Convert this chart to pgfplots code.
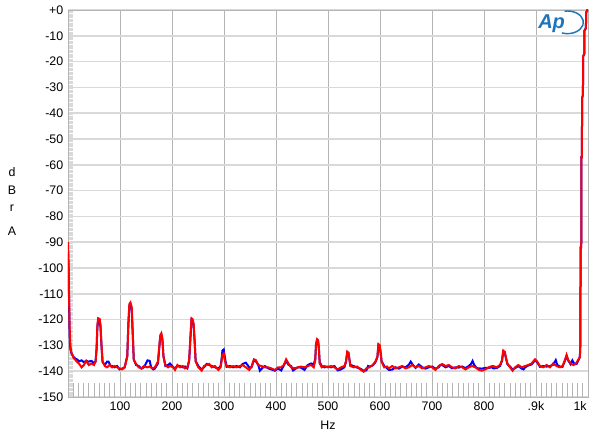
\documentclass[border=0pt]{standalone}
\usepackage{pgfplots}
\pgfplotsset{compat=1.18}
\usepackage{fontspec}
\setmainfont{Liberation Sans}
\definecolor{apblue}{HTML}{1C75BC}
\definecolor{hgrid}{HTML}{D9D9D9}
\definecolor{vgrid}{HTML}{B4B4B4}
\begin{document}
\begin{tikzpicture}
\path[use as bounding box] (-51pt,-33.75pt) rectangle (399pt,297.75pt);
\begin{axis}[
  at={(0,0)}, anchor=south west,
  scale only axis, width=390pt, height=290.25pt,
  xmin=0, xmax=1000, ymin=-150, ymax=0,
  xtick={100,200,...,1000},
  xticklabels={100,200,300,400,500,600,700,800,.9k,\makebox[0pt][r]{1k\hspace{1pt}}},
  ytick={-150,-140,...,0},
  yticklabels={-150,-140,-130,-120,-110,-100,-90,-80,-70,-60,-50,-40,-30,-20,-10,+0},
  tick label style={font=\fontsize{9.3}{10.5}\selectfont},
  /pgf/number format/assume math mode=true,
  major tick length=0pt,
  minor y tick num=19, minor x tick num=0,
  minor tick length=3.75pt,
  tick align=inside, tick pos=left,
  minor tick style={hgrid, line width=0.4pt},
  grid=major,
  major x grid style={vgrid, line width=0.6pt},
  major y grid style={hgrid, line width=1.2pt},
  axis line style={vgrid, line width=0.6pt},
]
\addplot[blue, line width=1.5pt] coordinates {
(0,-94) (1,-100) (2,-112) (3,-125) (4,-130) (5,-132) (7,-133.2) (9,-134) (11,-134.5) (14.5,-135.2) (18,-135.5) (21,-136.2) (26,-135.8) (30.5,-136.5) (35,-136) (40,-136.3) (45,-136) (50,-136.8) (53,-136.3) (55,-131.5) (56.5,-123) (58,-120.5) (61,-120.8) (62.5,-123) (64.5,-130.5) (66.5,-136.5) (71,-137.6) (75,-136.3) (78,-136.3) (82,-138) (85,-138) (90,-138.5) (94.5,-138) (99,-139.3) (104,-139) (109,-138.5) (114,-134) (116,-122.5) (118,-114.5) (120,-114) (122.5,-116) (124.5,-125.8) (126.5,-135.5) (131,-137.6) (136,-138) (141,-139) (146,-138.5) (150,-137) (153,-135.8) (157,-136) (160,-138.5) (164,-139.3) (167,-139) (173,-137) (175.5,-131) (177.5,-126.5) (179.5,-125.8) (181.5,-127.8) (183.5,-134) (187.3,-138) (192.4,-137.6) (196,-137) (202.6,-138.5) (205.8,-138.9) (210.3,-138) (215.4,-138) (220.5,-138.5) (225,-138.2) (229.5,-138.9) (233,-136) (235.5,-127) (237.5,-120) (239.5,-120.3) (241.5,-122) (243.5,-128.5) (245.5,-136) (250.6,-138) (257,-139.3) (261.5,-138.5) (266.6,-137.2) (271.7,-137.6) (276.2,-138) (282.6,-138.5) (289,-139) (293.5,-138) (295.5,-135) (297,-132) (299.5,-131.6) (301.5,-134.5) (305,-138.3) (311.4,-138) (317.8,-138.5) (324,-138) (330.6,-138.5) (335.7,-137.2) (342,-136.7) (348.5,-138.5) (353,-138.5) (357.5,-135.8) (361.3,-136.2) (365.8,-137.5) (369,-139.8) (375,-138.5) (378.6,-138) (385,-138.9) (391,-139.3) (397.8,-139.8) (404,-139) (410,-139.7) (415,-137.8) (419.5,-136) (424,-137.5) (429,-138) (433,-139.7) (438,-139) (442,-138.5) (448,-138.6) (454.7,-139.5) (461,-137.6) (467.5,-137) (472.6,-137.4) (475.5,-135.2) (477,-129.6) (479,-128.2) (481,-128.6) (482.5,-131.5) (484,-136.5) (488,-138) (493,-138.5) (499.5,-138.2) (506,-138.5) (512.3,-138) (518.7,-139.7) (525,-139.3) (531.5,-138.5) (534.5,-136.5) (537,-132.8) (539.5,-133.2) (541,-135.3) (543,-137.6) (549.4,-138) (556,-138.6) (562,-139) (568.6,-139.8) (573.7,-139.7) (577,-138) (579.5,-138.2) (586,-137.8) (591,-136.6) (595,-134.6) (597,-130) (599.5,-130.5) (601.5,-133.5) (603,-136) (608,-138) (613.4,-138.8) (617,-139.5) (623.5,-139.4) (630,-138.5) (636.3,-139) (642.7,-138.2) (649,-138.5) (655.5,-137.5) (659,-136.3) (662,-137.2) (668.3,-138.7) (674.7,-137.4) (681,-138.5) (687.5,-139) (694,-138.5) (700.3,-138.2) (706.7,-139) (713,-138.5) (716,-137.6) (719.5,-137.6) (726,-138.5) (732.3,-138) (738.7,-138.9) (745,-138.5) (751.5,-138.6) (758,-138.2) (764.3,-138.8) (770.7,-138) (775,-137.2) (778,-136) (781,-137.5) (786,-138.8) (790,-138.9) (796.3,-139) (802.7,-138.7) (809,-138.7) (815.5,-138.5) (818,-138.9) (824.4,-138.8) (830.8,-138) (834.6,-136) (837,-132.5) (840,-133) (842,-134.8) (845,-137.3) (850,-138.2) (855,-139.3) (860,-138.8) (866,-138) (872.4,-139) (876,-139.3) (879,-138.5) (885,-137.8) (891.6,-137.4) (898,-135.8) (902.5,-136.6) (907.6,-138.3) (914,-138) (920.4,-138.2) (926.8,-138) (933,-137.5) (938,-135.7) (941,-137.6) (946,-138.2) (951,-138.3) (955.6,-136) (958.8,-134) (962,-135.9) (966.5,-137.3) (970,-135.8) (974,-137.3) (978,-137.2) (981,-136) (984.4,-134.3) (985.2,-130) (985.5,-112) (985.8,-92) (987,-92) (987.3,-57) (988.3,-57) (988.6,-34) (990.3,-33) (990.6,-18) (992.8,-17) (993.1,-8) (996,-7) (996.5,-1) (999,0) (1000,0.5)
};
\addplot[red, line width=1.5pt] coordinates {
(0,-90) (1,-97) (2,-110) (3,-122) (4,-128) (5,-131) (7,-133) (9,-133.8) (11,-135) (14.5,-135.7) (18,-136.5) (21,-137) (26,-138.5) (30.5,-137.6) (35,-136) (40,-137.6) (45,-137) (50,-137.6) (53,-136.3) (55,-131) (56.5,-122) (58,-119.5) (61,-119.8) (62.5,-122) (64.5,-130) (66.5,-136.3) (71,-138) (75,-138.5) (80,-137.6) (85,-138.5) (90,-138) (94.5,-138.5) (99,-138.9) (104,-139.3) (109,-138.5) (114,-134.4) (116,-122) (118,-114) (120,-113.4) (122.5,-115) (124.5,-125) (126.5,-135.7) (131,-137.2) (136,-138.5) (141,-138.9) (146,-138) (152,-138.5) (157,-138.2) (162,-138.9) (167,-138.5) (173,-136.3) (175.5,-130.5) (177.5,-126) (179.5,-125.3) (181.5,-127.3) (183.5,-134.4) (187.3,-137.6) (192.4,-138.5) (196,-138) (202.6,-138.5) (205.8,-139.5) (210.3,-137.6) (215.4,-138.5) (220.5,-138) (225,-138.9) (229.5,-138.5) (233,-135.7) (235.5,-126.6) (237.5,-119.5) (239.5,-119.8) (241.5,-121.5) (243.5,-128) (245.5,-136.3) (250.6,-138.5) (257,-139.8) (261.5,-138) (266.6,-137.6) (271.7,-137.2) (276.2,-138.5) (282.6,-138) (289,-139.5) (293.5,-138.5) (295.5,-136) (297,-133.5) (299.5,-133.1) (301.5,-135.7) (305,-138) (311.4,-138.5) (317.8,-138) (324,-138.5) (330.6,-138) (335.7,-137.6) (342,-138.5) (348.5,-139.5) (353,-138.2) (357.5,-135.4) (361.3,-135.7) (365.8,-137.6) (372,-138) (378.6,-138.5) (385,-138.5) (391,-138.9) (397.8,-139.5) (404,-138.5) (410,-138.5) (415,-137.6) (419.5,-135.4) (424,-137) (429,-138.5) (435.5,-138.9) (442,-138.5) (448,-138.2) (454.7,-138.5) (461,-138) (467.5,-137.6) (472.6,-138.5) (475.5,-135.7) (477,-129.2) (479,-127.6) (481,-128) (482.5,-131) (484,-137) (488,-138.5) (493,-138) (499.5,-138.5) (506,-138) (512.3,-138.5) (518.7,-139.3) (525,-138.5) (531.5,-138) (534.5,-136.3) (537,-132.4) (539.5,-132.8) (541,-135) (543,-138) (549.4,-138.5) (556,-138.2) (562,-139.3) (568.6,-140.2) (573.7,-138.9) (579.5,-138.5) (586,-137.6) (591,-136.3) (595,-134.4) (597,-129.5) (599.5,-130) (601.5,-133) (603,-136.3) (608,-138.5) (613.4,-138.2) (617,-138.9) (623.5,-138) (630,-138.9) (636.3,-138.5) (642.7,-138) (649,-138.9) (655.5,-138.5) (662,-137.6) (668.3,-138.5) (674.7,-138) (681,-138.9) (687.5,-138.5) (694,-138) (700.3,-138.5) (706.7,-139.5) (713,-138) (719.5,-137.2) (726,-138) (732.3,-137.6) (738.7,-138.5) (745,-138.9) (751.5,-138) (758,-138.5) (764.3,-139.3) (770.7,-138.5) (777,-138) (783.5,-138.5) (790,-139.5) (796.3,-139.8) (802.7,-139.3) (809,-138.5) (815.5,-138) (818,-138) (824.4,-138.5) (830.8,-137.6) (834.6,-135.7) (837,-132) (840,-132.5) (842,-134.5) (845,-137) (850,-138.5) (855,-139.8) (860,-138.5) (866,-137.6) (872.4,-138.5) (879,-138) (885,-137.6) (891.6,-137) (898,-135.4) (902.5,-136.3) (907.6,-138) (914,-138.5) (920.4,-137.6) (926.8,-138.5) (933,-137) (939.6,-138) (946,-138.5) (951,-138) (955.6,-135.7) (958.8,-133.7) (962,-135.7) (966.5,-137) (971.6,-137.6) (976.7,-137) (981,-135.7) (984.4,-134.6) (985.2,-130) (985.5,-112) (985.8,-92) (987,-92) (987.3,-57) (988.3,-57) (988.6,-34) (990.3,-33) (990.6,-18) (992.8,-17) (993.1,-8) (996,-7) (996.5,-1) (999,0) (1000,0.5)
};
% Ap logo
\node[text=apblue, font=\bfseries\itshape\fontsize{15}{15}\selectfont, inner sep=0pt]
  at (rel axis cs:0.930,0.965) {Ap};
\draw[apblue, line width=1.1pt] (rel axis cs:0.955,0.997)
  arc[start angle=100, end angle=-110, x radius=12pt, y radius=8.5pt];
\end{axis}
% minor x ticks along the bottom
\begin{axis}[
  at={(0,0)}, anchor=south west,
  scale only axis, width=390pt, height=290.25pt,
  xmin=0, xmax=1000, ymin=-150, ymax=0,
  xtick={0,100,...,1000}, xticklabels={},
  ytick=\empty,
  major tick length=0pt,
  minor x tick num=9, minor tick length=10.5pt,
  tick align=inside, tick pos=bottom,
  minor tick style={vgrid, line width=0.5pt},
  axis line style={draw=none},
]
\end{axis}
\node[font=\fontsize{9.3}{10}\selectfont] at (195pt,-21pt) {Hz};
\node[font=\fontsize{9.3}{13.1}\selectfont, align=center] at (-42pt,146.6pt) {d\\B\\r\\[4.9pt]A};
\end{tikzpicture}
\end{document}
